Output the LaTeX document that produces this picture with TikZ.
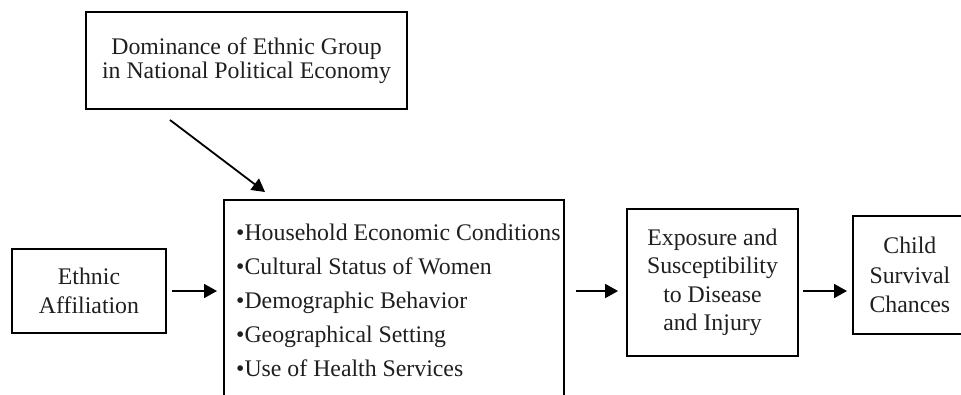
\documentclass[tikz,border=0pt]{standalone}
\usepackage{fontspec}
\setmainfont{Liberation Serif}
\usetikzlibrary{arrows.meta}

\tikzset{
  box/.style={draw=black, line width=1.8pt, rectangle, inner sep=0pt,
    align=center, text=black!88, font=\fontsize{23.8}{29.5}\selectfont},
  listtext/.style={inner sep=0pt, align=left, anchor=west, text=black!88,
    font=\fontsize{23.8}{34}\selectfont},
  arr/.style={line width=1.8pt,
    -{Triangle[length=13pt,width=14pt]}},
}

\begin{document}
\begin{tikzpicture}[x=1pt,y=-1pt]
\path[use as bounding box] (0,0) rectangle (961,394);
\clip (0,0) rectangle (961,394);

% influence from the national level
\node[box, minimum width=321pt, minimum height=97pt,
  font=\fontsize{23.8}{24}\selectfont] (dom) at (246.5,60.5)
  {Dominance of Ethnic Group\\in National Political Economy};

% causal chain
\node[box, minimum width=154pt, minimum height=84pt] (eth) at (89,291)
  {Ethnic\\Affiliation};

\node[box, anchor=north west, minimum width=340pt, minimum height=230pt]
  (mid) at (223,199) {};
\node[listtext] (midtext) at (236,300)
  {•Household Economic Conditions\\
   •Cultural Status of Women\\
   •Demographic Behavior\\
   •Geographical Setting\\
   •Use of Health Services};

\node[box, minimum width=171pt, minimum height=147pt,
  font=\fontsize{23.8}{28.5}\selectfont] (exp) at (712.5,282.5)
  {Exposure and\\Susceptibility\\to Disease\\and Injury};

\node[box, anchor=west, minimum width=114pt, minimum height=118pt,
  text width=110pt] (child) at (852,275)
  {Child\\Survival\\Chances};

% connectors
\coordinate (domfoot) at (170,120);
\coordinate (midhead) at (265,192);
\draw[arr] (domfoot) -- (midhead);

\draw[arr, shorten <=5pt, shorten >=6pt] (eth.east) -- (eth.east -| mid.west);
\draw[arr, shorten <=11pt, shorten >=8pt] (eth.east -| mid.east) -- (eth.east -| exp.west);
\draw[arr, shorten <=4pt, shorten >=5pt] (eth.east -| exp.east) -- (eth.east -| child.west);
\end{tikzpicture}
\end{document}
